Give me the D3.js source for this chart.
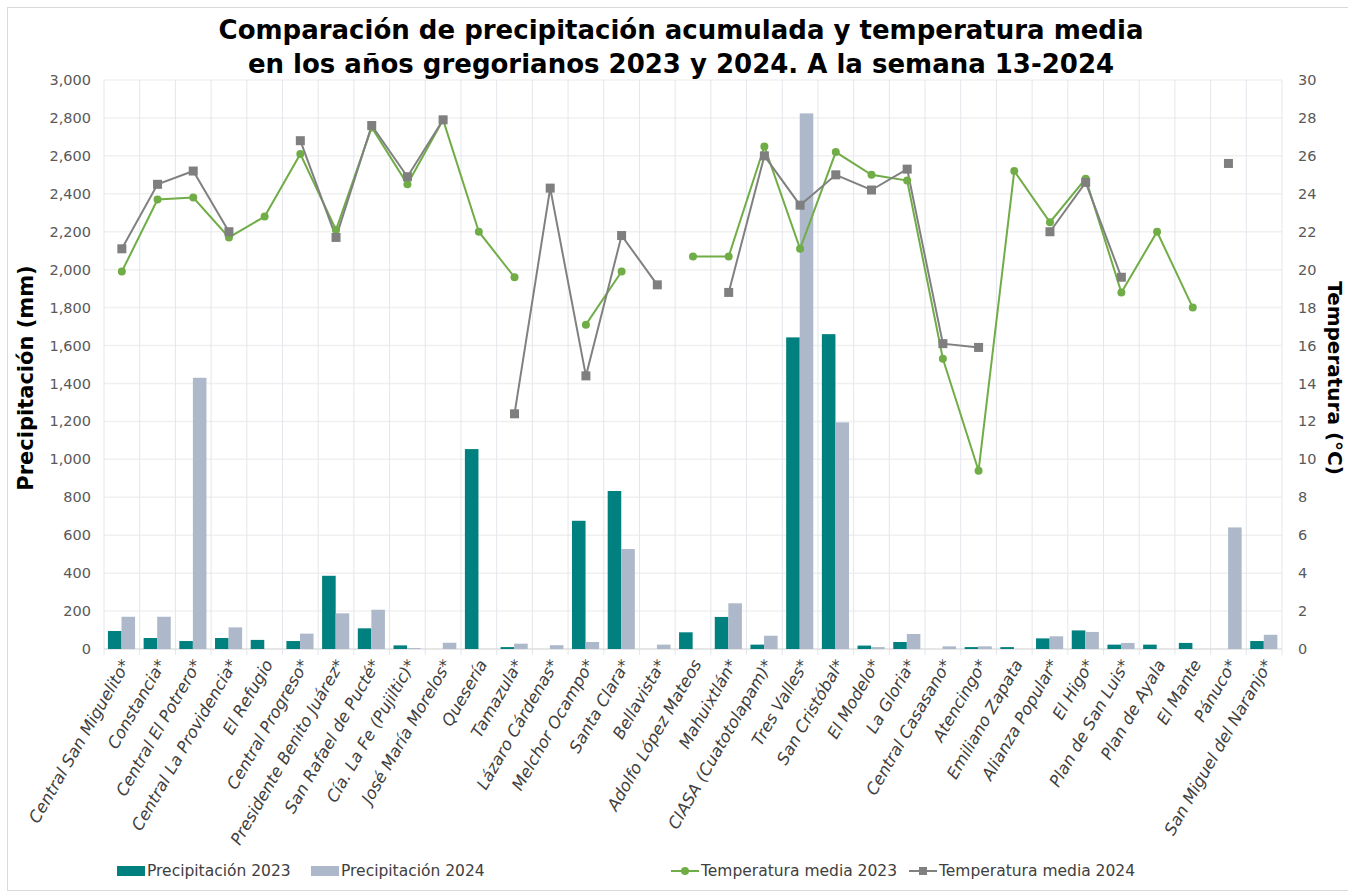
<!DOCTYPE html>
<html>
<head>
<meta charset="utf-8">
<script src="https://cdn.jsdelivr.net/npm/d3@7"></script>
<style>
  body { margin: 0; background: #fff; }
  svg { font-family: 'DejaVu Sans', sans-serif; }
</style>
</head>
<body>
<div id="chart"></div>
<script>
let ingenios = [
  'Central San Miguelito*', 'Constancia*', 'Central El Potrero*', 'Central La Providencia*',
  'El Refugio', 'Central Progreso*', 'Presidente Benito Juárez*', 'San Rafael de Pucté*',
  'Cía. La Fe (Pujiltic)*', 'José María Morelos*', 'Quesería', 'Tamazula*', 'Lázaro Cárdenas*',
  'Melchor Ocampo*', 'Santa Clara*', 'Bellavista*', 'Adolfo López Mateos', 'Mahuixtlán*',
  'CIASA (Cuatotolapam)*', 'Tres Valles*', 'San Cristóbal*', 'El Modelo*', 'La Gloria*',
  'Central Casasano*', 'Atencingo*', 'Emiliano Zapata', 'Alianza Popular*', 'El Higo*',
  'Plan de San Luis*', 'Plan de Ayala', 'El Mante', 'Pánuco*', 'San Miguel del Naranjo*'
]

let prec2023 = [95, 58, 42, 58, 48, 42, 386, 109, 19, 0, 1054, 10, 0, 676, 833, 0, 88, 169,
  23, 1643, 1660, 18, 37, 0, 10, 10, 56, 98, 23, 23, 32, 0, 42]
let prec2024 = [170, 170, 1430, 114, 0, 81, 188, 207, 5, 33, 0, 28, 20, 37, 527, 23, 0, 241,
  70, 2824, 1195, 10, 79, 14, 14, 0, 67, 90, 32, 0, 0, 641, 75]

let temp2023 = [19.9, 23.7, 23.8, 21.7, 22.8, 26.1, 22.1, 27.5, 24.5, 27.9, 22.0, 19.6, null,
  17.1, 19.9, null, 20.7, 20.7, 26.5, 21.1, 26.2, 25.0, 24.7, 15.3, 9.4, 25.2, 22.5, 24.8,
  18.8, 22.0, 18.0, null, null]
let temp2024 = [21.1, 24.5, 25.2, 22.0, null, 26.8, 21.7, 27.6, 24.9, 27.9, null, 12.4, 24.3,
  14.4, 21.8, 19.2, null, 18.8, 26.0, 23.4, 25.0, 24.2, 25.3, 16.1, 15.9, null, 22.0, 24.6,
  19.6, null, null, 25.6, null]

let precTicks = d3.range(0, 3001, 200)
let tempTicks = d3.range(0, 31, 2)

let width = 1348
let height = 893
let margin = { top: 80, left: 104, right: 66, bottom: 244 }
let innerW = width - margin.left - margin.right
let innerH = height - margin.top - margin.bottom

let svg = d3
  .select('#chart')
  .append('svg')
  .attr('width', width)
  .attr('height', height)

// marco del grafico
svg
  .append('rect')
  .attr('x', 7.5)
  .attr('y', 7.5)
  .attr('width', width)
  .attr('height', height - 10)
  .attr('fill', 'none')
  .attr('stroke', '#D9D9D9')

let g = svg
  .append('g')
  .attr('transform', 'translate(' + margin.left + ',' + margin.top + ')')

let x = d3.scaleBand().domain(ingenios).range([0, innerW])
let xInner = d3
  .scaleBand()
  .domain(['2023', '2024'])
  .range([x.bandwidth() * 0.11, x.bandwidth() * 0.87])
let yPrec = d3.scaleLinear().domain([0, 3000]).range([innerH, 0])
let yTemp = d3.scaleLinear().domain([0, 30]).range([innerH, 0])

// rejilla horizontal
g.append('g')
  .selectAll('line')
  .data(precTicks)
  .enter()
  .append('line')
  .attr('x1', 0)
  .attr('x2', innerW)
  .attr('y1', d => yPrec(d))
  .attr('y2', d => yPrec(d))
  .attr('stroke', '#F0F0F0')
  .attr('stroke-width', 1.5)

// rejilla vertical
g.append('g')
  .selectAll('line')
  .data(d3.range(ingenios.length + 1))
  .enter()
  .append('line')
  .attr('x1', d => d * x.step())
  .attr('x2', d => d * x.step())
  .attr('y1', 0)
  .attr('y2', innerH + 6)
  .attr('stroke', '#E3E6EC')
  .attr('stroke-width', 1)

// eje x
g.append('line')
  .attr('x1', 0)
  .attr('x2', innerW)
  .attr('y1', innerH)
  .attr('y2', innerH)
  .attr('stroke', '#D9D9D9')

// barras
let groups = g
  .append('g')
  .selectAll('g')
  .data(ingenios)
  .enter()
  .append('g')
  .attr('transform', d => 'translate(' + x(d) + ',0)')

groups
  .append('rect')
  .attr('x', xInner('2023'))
  .attr('width', xInner.bandwidth())
  .attr('y', (d, i) => yPrec(prec2023[i]))
  .attr('height', (d, i) => innerH - yPrec(prec2023[i]))
  .attr('fill', '#00807E')

groups
  .append('rect')
  .attr('x', xInner('2024'))
  .attr('width', xInner.bandwidth())
  .attr('y', (d, i) => yPrec(prec2024[i]))
  .attr('height', (d, i) => innerH - yPrec(prec2024[i]))
  .attr('fill', '#ADB9CA')

// lineas de temperatura
let cx = i => x(ingenios[i]) + x.bandwidth() / 2

let line = d3
  .line()
  .defined(d => d != null)
  .x((d, i) => cx(i))
  .y(d => yTemp(d))

g.append('path')
  .datum(temp2023)
  .attr('d', line)
  .attr('fill', 'none')
  .attr('stroke', '#70AD47')
  .attr('stroke-width', 2)

g.append('path')
  .datum(temp2024)
  .attr('d', line)
  .attr('fill', 'none')
  .attr('stroke', '#808080')
  .attr('stroke-width', 2)

g.append('g')
  .selectAll('circle')
  .data(temp2023.map((v, i) => ({ v, i })).filter(d => d.v != null))
  .enter()
  .append('circle')
  .attr('cx', d => cx(d.i))
  .attr('cy', d => yTemp(d.v))
  .attr('r', 4)
  .attr('fill', '#70AD47')

g.append('g')
  .selectAll('rect')
  .data(temp2024.map((v, i) => ({ v, i })).filter(d => d.v != null))
  .enter()
  .append('rect')
  .attr('x', d => cx(d.i) - 4.5)
  .attr('y', d => yTemp(d.v) - 4.5)
  .attr('width', 9)
  .attr('height', 9)
  .attr('fill', '#7F7F7F')

// eje izquierdo
g.append('g')
  .selectAll('text')
  .data(precTicks)
  .enter()
  .append('text')
  .attr('x', -13)
  .attr('y', d => yPrec(d))
  .attr('dy', '0.35em')
  .attr('text-anchor', 'end')
  .attr('font-size', 14.5)
  .attr('fill', '#595959')
  .text(d => d3.format(',')(d))

// eje derecho
g.append('g')
  .selectAll('text')
  .data(tempTicks)
  .enter()
  .append('text')
  .attr('x', innerW + 16)
  .attr('y', d => yTemp(d))
  .attr('dy', '0.35em')
  .attr('text-anchor', 'start')
  .attr('font-size', 14.5)
  .attr('fill', '#595959')
  .text(d => d)

// etiquetas del eje x
g.append('g')
  .selectAll('text')
  .data(ingenios)
  .enter()
  .append('text')
  .attr('transform', d => 'translate(' + (x(d) + x.bandwidth() / 2 + 4) + ',' + (innerH + 12) + ') rotate(-60)')
  .attr('text-anchor', 'end')
  .attr('dy', '0.35em')
  .attr('font-size', 16.5)
  .attr('font-style', 'italic')
  .attr('fill', '#404040')
  .text(d => d)

// titulos de ejes
svg
  .append('text')
  .attr('transform', 'translate(33,378) rotate(-90)')
  .attr('text-anchor', 'middle')
  .attr('font-size', 21)
  .attr('font-weight', 'bold')
  .text('Precipitación (mm)')

svg
  .append('text')
  .attr('transform', 'translate(1328,378) rotate(90)')
  .attr('text-anchor', 'middle')
  .attr('font-size', 20)
  .attr('font-weight', 'bold')
  .text('Temperatura (°C)')

// titulo
let title = svg
  .append('text')
  .attr('x', 681)
  .attr('text-anchor', 'middle')
  .attr('font-size', 26)
  .attr('font-weight', 'bold')
  .attr('fill', '#000')

title.append('tspan').attr('x', 681).attr('y', 39)
  .text('Comparación de precipitación acumulada y temperatura media')
title.append('tspan').attr('x', 681).attr('y', 73)
  .text('en los años gregorianos 2023 y 2024. A la semana 13-2024')

// leyenda
let legend = [
  { name: 'Precipitación 2023', type: 'bar', color: '#00807E', x: 117 },
  { name: 'Precipitación 2024', type: 'bar', color: '#ADB9CA', x: 311 },
  { name: 'Temperatura media 2023', type: 'circle', color: '#70AD47', x: 671 },
  { name: 'Temperatura media 2024', type: 'square', color: '#808080', x: 909 }
]

let items = svg
  .append('g')
  .selectAll('g')
  .data(legend)
  .enter()
  .append('g')
  .attr('transform', d => 'translate(' + d.x + ',871)')

items
  .filter(d => d.type === 'bar')
  .append('rect')
  .attr('x', 0)
  .attr('y', -5)
  .attr('width', 28)
  .attr('height', 10)
  .attr('fill', d => d.color)

items
  .filter(d => d.type !== 'bar')
  .append('line')
  .attr('x1', 0)
  .attr('x2', 28)
  .attr('stroke', d => d.color)
  .attr('stroke-width', 2)

items
  .filter(d => d.type === 'circle')
  .append('circle')
  .attr('cx', 14)
  .attr('r', 4)
  .attr('fill', d => d.color)

items
  .filter(d => d.type === 'square')
  .append('rect')
  .attr('x', 10)
  .attr('y', -4)
  .attr('width', 8)
  .attr('height', 8)
  .attr('fill', d => d.color)

items
  .append('text')
  .attr('x', 30)
  .attr('dy', '0.35em')
  .attr('font-size', 15.5)
  .attr('fill', '#404040')
  .text(d => d.name)
</script>
</body>
</html>
